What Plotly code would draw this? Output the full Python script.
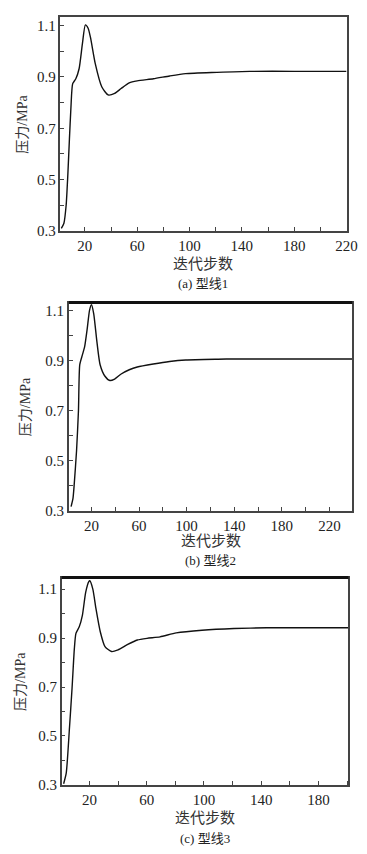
import plotly.graph_objects as go

# Panel (a) 型线1
steps_a = [2, 4, 5.7, 7, 8.2, 9.4, 10.7, 13.1, 15.6, 18.1, 20.4, 22.5, 24.3, 28, 32.9, 37.8, 42.8, 47.7, 53.9, 60, 72.4, 84.8, 97, 121, 146, 180, 220]
press_a = [0.31, 0.33, 0.40, 0.52, 0.657, 0.785, 0.874, 0.893, 0.932, 1.028, 1.103, 1.09, 1.054, 0.951, 0.862, 0.830, 0.836, 0.855, 0.877, 0.885, 0.893, 0.904, 0.913, 0.918, 0.922, 0.922, 0.922]

# Panel (b) 型线2
steps_b = [2.9, 4.5, 5.6, 7.5, 9.1, 10.2, 12.4, 14.3, 16.5, 18.4, 20, 21.9, 24.6, 27.3, 31.4, 35.5, 39.5, 45, 51.8, 58.5, 72, 85.7, 99.3, 126.4, 140, 180, 239]
press_b = [0.317, 0.35, 0.41, 0.54, 0.70, 0.883, 0.922, 0.955, 1.028, 1.10, 1.122, 1.087, 0.975, 0.883, 0.837, 0.820, 0.826, 0.846, 0.863, 0.874, 0.886, 0.896, 0.902, 0.905, 0.906, 0.906, 0.906]

# Panel (c) 型线3
steps_c = [1.9, 3.7, 6, 7.8, 9.4, 10.5, 12.8, 15, 17.3, 19.5, 20.2, 22.3, 24.5, 27.5, 30.8, 35.4, 39.9, 46.7, 53.4, 60.2, 69.3, 80.6, 98.6, 121, 143.8, 170, 201]
press_c = [0.305, 0.348, 0.536, 0.697, 0.858, 0.919, 0.946, 0.993, 1.087, 1.131, 1.134, 1.10, 1.02, 0.926, 0.865, 0.845, 0.852, 0.874, 0.892, 0.899, 0.905, 0.921, 0.932, 0.939, 0.942, 0.942, 0.942]

x_ticks = [20, 60, 100, 140, 180, 220]
y_ticks = [0.3, 0.5, 0.7, 0.9, 1.1]
x_title = "迭代步数"
y_title = "压力/MPa"
captions = ["(a) 型线1", "(b) 型线2", "(c) 型线3"]

W, H = 367, 854
FONT = "Liberation Serif, Noto Sans CJK SC"

# pixel boxes: left, right, top, bottom
boxes = [(54, 349, 9.3, 225), (62.7, 355, 297.3, 507.7), (55.3, 351, 575, 784.3)]
xranges = [[1.3, 220], [1, 239.3], [0.5, 201]]
yranges = [[0.3, 1.133], [0.3, 1.131], [0.3, 1.147]]
ytitle_x = [14, 18, 13]
xtitle_y = [258, 538, 818]
cap_y = [278, 558, 838]

fig = go.Figure()
series = [(steps_a, press_a), (steps_b, press_b), (steps_c, press_c)]
layout = dict(
    width=W, height=H, margin=dict(l=0, r=0, t=0, b=0),
    paper_bgcolor="white", plot_bgcolor="white", showlegend=False,
    font=dict(family=FONT, size=14, color="#222"),
)
annotations = []
shapes = []
for i, (xs, ys) in enumerate(series):
    n = "" if i == 0 else str(i + 1)
    fig.add_trace(go.Scatter(x=xs, y=ys, mode="lines", line=dict(color="#111", width=1.4, shape="spline", smoothing=0.6),
                             xaxis="x" + n, yaxis="y" + n, hoverinfo="skip"))
    l, r, t, b = boxes[i]
    layout["xaxis" + n] = dict(
        domain=[l / W, r / W], anchor="y" + n, range=xranges[i],
        tickvals=x_ticks, ticktext=[str(v) for v in x_ticks], ticks="inside", ticklen=4,
        tickcolor="#444", showline=True, linecolor="#444", linewidth=1.5, mirror=True,
        showgrid=False, zeroline=False, tickfont=dict(size=15, family=FONT, color="#222"),
        minor=dict(dtick=20, tick0=0, ticks="inside", ticklen=4, tickcolor="#444"),
    )
    layout["yaxis" + n] = dict(
        domain=[1 - b / H, 1 - t / H], anchor="x" + n, range=yranges[i],
        tickvals=y_ticks, ticktext=[f"{v:.1f}" for v in y_ticks], ticks="inside", ticklen=4,
        tickcolor="#444", showline=True, linecolor="#444", linewidth=1.5, mirror=True,
        showgrid=False, zeroline=False, tickfont=dict(size=15, family=FONT, color="#222"),
        minor=dict(dtick=0.1, tick0=0.3, ticks="inside", ticklen=4, tickcolor="#444"),
    )
    annotations.append(dict(text=y_title, x=ytitle_x[i] / W, y=1 - (t + b) / 2 / H, xref="paper", yref="paper",
                            xanchor="center", yanchor="middle",
                            textangle=-90, showarrow=False, font=dict(size=14, family=FONT, color="#333")))
    annotations.append(dict(text=x_title, x=(l + r) / 2 / W, y=1 - xtitle_y[i] / H, xref="paper", yref="paper",
                            xanchor="center", yanchor="middle",
                            showarrow=False, font=dict(size=15, family=FONT, color="#333")))
    annotations.append(dict(text=captions[i], x=(l + r) / 2 / W, y=1 - cap_y[i] / H, xref="paper", yref="paper",
                            xanchor="center", yanchor="middle",
                            showarrow=False, font=dict(size=13, family=FONT, color="#222")))
    if i > 0:
        shapes.append(dict(type="line", xref="x" + n + " domain", yref="y" + n + " domain",
                           x0=0, x1=1, y0=1, y1=1, line=dict(color="#111", width=3)))

layout["annotations"] = annotations
layout["shapes"] = shapes
fig.update_layout(**layout)
fig.write_html("out.html")
